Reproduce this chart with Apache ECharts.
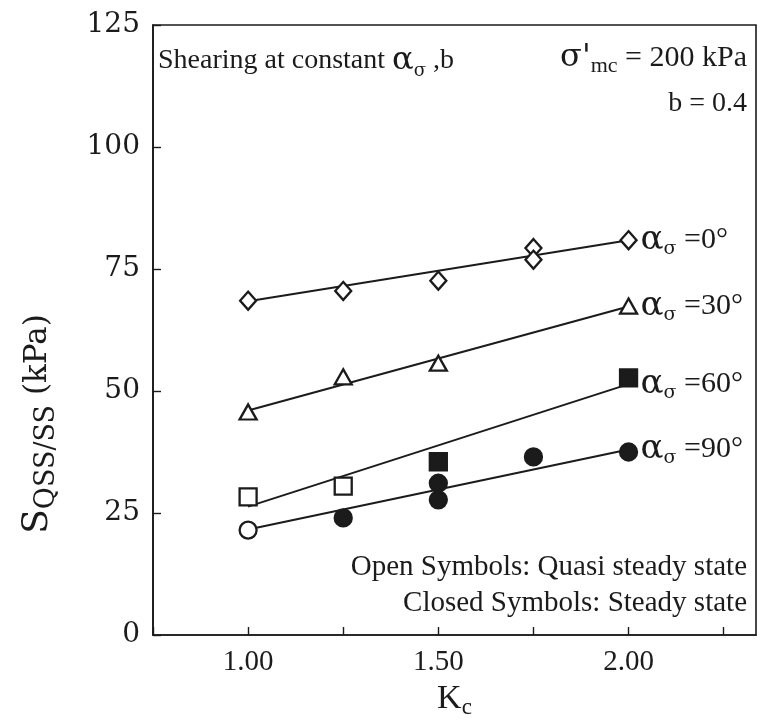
<!DOCTYPE html>
<html>
<head>
<meta charset="utf-8">
<script src="https://cdn.jsdelivr.net/npm/echarts@6/dist/echarts.min.js"></script>
<style>
  html, body { margin: 0; padding: 0; background: #ffffff; }
  #chart { width: 760px; height: 724px; }
</style>
</head>
<body>
<div id="chart"></div>
<script>
// Undrained strength vs. consolidation ratio K_c, grouped by principal stress direction
const xLabeled = [1.00, 1.50, 2.00];

// alpha_sigma = 0 deg (diamonds)
const a0Kc = [1.00, 1.25, 1.50, 1.75, 1.75, 2.00];
const a0Val = [68.5, 70.5, 72.6, 79.3, 76.9, 80.9];
const a0Closed = [false, false, false, false, false, false];

// alpha_sigma = 30 deg (triangles)
const a30Kc = [1.00, 1.25, 1.50, 2.00];
const a30Val = [45.7, 52.9, 55.7, 67.4];
const a30Closed = [false, false, false, false];

// alpha_sigma = 60 deg (squares)
const a60Kc = [1.00, 1.25, 1.50, 2.00];
const a60Val = [28.3, 30.5, 35.5, 52.7];
const a60Closed = [false, false, true, true];

// alpha_sigma = 90 deg (circles)
const a90Kc = [1.00, 1.25, 1.50, 1.50, 1.75, 2.00];
const a90Val = [21.5, 24.0, 31.1, 27.7, 36.5, 37.5];
const a90Closed = [false, true, true, true, true, true];

// best-fit lines, evaluated at K_c = 1.00 and 2.00
const fitKc = [1.00, 2.00];
const fit0 = [68.4, 80.9];
const fit30 = [46.0, 67.3];
const fit60 = [26.3, 51.4];
const fit90 = [21.6, 38.0];
const fitAngles = ['0°', '30°', '60°', '90°'];

const INK = '#1b1b1b';
const SERIF = '"Liberation Serif", "DejaVu Serif", serif';
const WIDE = '"DejaVu Serif", "Liberation Serif", serif';

function markerData(kc, val, closed) {
  return kc.map((k, i) => ({
    value: [k, val[i]],
    itemStyle: closed[i] ? { color: INK, borderColor: INK } : { color: '#ffffff', borderColor: INK }
  }));
}

function markerSeries(kc, val, closed, symbol, size) {
  return {
    type: 'scatter',
    symbol: symbol,
    symbolSize: size,
    z: 5,
    itemStyle: { borderWidth: 2.3, opacity: 1 },
    data: markerData(kc, val, closed)
  };
}

const alphaRich = {
  a: { fontFamily: WIDE, fontSize: 34, color: INK, lineHeight: 36, verticalAlign: 'middle' },
  s: { fontFamily: WIDE, fontSize: 19, color: INK, lineHeight: 36, verticalAlign: 'bottom' },
  t: { fontFamily: SERIF, fontSize: 30, color: INK, lineHeight: 36, verticalAlign: 'middle' }
};

function fitSeries(vals, angle) {
  return {
    type: 'line',
    z: 3,
    symbol: 'none',
    silent: true,
    lineStyle: { color: INK, width: 2 },
    endLabel: {
      show: true,
      distance: 12,
      formatter: '{a|α}{s|σ}{t| =' + angle + '}',
      rich: alphaRich
    },
    data: fitKc.map((k, i) => [k, vals[i]])
  };
}

const chart = echarts.init(document.getElementById('chart'), null, { renderer: 'canvas' });

const option = {
  backgroundColor: '#ffffff',
  animation: false,
  grid: {
    left: 153, top: 25, right: 4, bottom: 89,
    outerBoundsMode: 'none',
    containLabel: false,
    show: true, borderColor: INK, borderWidth: 1.6, backgroundColor: 'transparent'
  },
  xAxis: {
    type: 'value',
    min: 0.75,
    max: 2.335,
    interval: 0.25,
    axisLine: { show: true, onZero: false, lineStyle: { color: INK, width: 1.7 } },
    axisTick: { show: true, inside: true, length: 8, lineStyle: { color: INK, width: 1.4 } },
    splitLine: { show: false },
    axisLabel: {
      show: true,
      margin: 13,
      showMaxLabel: false,
      color: INK,
      fontFamily: SERIF,
      fontSize: 29,
      formatter: v => (xLabeled.some(t => Math.abs(t - v) < 1e-6) ? v.toFixed(2) : '')
    },
    name: '{k|K}{c|c}',
    nameLocation: 'middle',
    nameGap: 40,
    nameTextStyle: {
      rich: {
        k: { fontFamily: SERIF, fontSize: 34, color: INK, lineHeight: 42, verticalAlign: 'middle' },
        c: { fontFamily: SERIF, fontSize: 23, color: INK, lineHeight: 42, verticalAlign: 'bottom' }
      }
    }
  },
  yAxis: {
    type: 'value',
    min: 0,
    max: 125,
    interval: 25,
    axisLine: { show: true, lineStyle: { color: INK, width: 1.7 } },
    axisTick: { show: true, inside: true, length: 8, lineStyle: { color: INK, width: 1.4 } },
    splitLine: { show: false },
    axisLabel: { margin: 13, color: INK, fontFamily: WIDE, fontSize: 28 }
  },
  graphic: [
    {
      type: 'text', x: 38, y: 424, rotation: Math.PI / 2,
      style: {
        text: '{S|S}{q|QSS/SS}{u| (kPa)}',
        align: 'center', verticalAlign: 'middle',
        rich: {
          S: { fontFamily: WIDE, fontSize: 36, fill: INK, lineHeight: 44, verticalAlign: 'middle' },
          q: { fontFamily: WIDE, fontSize: 27, fill: INK, lineHeight: 44, verticalAlign: 'bottom' },
          u: { fontFamily: WIDE, fontSize: 31, fill: INK, lineHeight: 44, verticalAlign: 'middle' }
        }
      }
    },
    {
      type: 'text', x: 158, y: 61,
      style: {
        text: '{t|Shearing at constant }{a|α}{s|σ}{t| ,b}',
        align: 'left', verticalAlign: 'middle',
        rich: {
          t: { fontFamily: SERIF, fontSize: 28, fill: INK, lineHeight: 38, verticalAlign: 'middle' },
          a: { fontFamily: WIDE, fontSize: 32, fill: INK, lineHeight: 38, verticalAlign: 'middle' },
          s: { fontFamily: WIDE, fontSize: 18, fill: INK, lineHeight: 38, verticalAlign: 'bottom' }
        }
      }
    },
    {
      type: 'text', x: 747, y: 58,
      style: {
        text: "{g|σ'}{m|mc}{t| = 200 kPa}",
        align: 'right', verticalAlign: 'middle',
        rich: {
          g: { fontFamily: WIDE, fontSize: 32, fill: INK, lineHeight: 38, verticalAlign: 'middle' },
          m: { fontFamily: SERIF, fontSize: 22, fill: INK, lineHeight: 38, verticalAlign: 'bottom' },
          t: { fontFamily: SERIF, fontSize: 30, fill: INK, lineHeight: 38, verticalAlign: 'middle' }
        }
      }
    },
    {
      type: 'text', x: 747, y: 104,
      style: {
        text: 'b = 0.4', align: 'right', verticalAlign: 'middle',
        font: '28px ' + SERIF, fill: INK
      }
    },
    {
      type: 'text', x: 747, y: 567,
      style: {
        text: 'Open Symbols: Quasi steady state', align: 'right', verticalAlign: 'middle',
        font: '29px ' + SERIF, fill: INK
      }
    },
    {
      type: 'text', x: 747, y: 603,
      style: {
        text: 'Closed Symbols: Steady state', align: 'right', verticalAlign: 'middle',
        font: '29px ' + SERIF, fill: INK
      }
    }
  ],
  series: [
    fitSeries(fit0, fitAngles[0]),
    fitSeries(fit30, fitAngles[1]),
    fitSeries(fit60, fitAngles[2]),
    fitSeries(fit90, fitAngles[3]),
    markerSeries(a0Kc, a0Val, a0Closed, 'diamond', [16, 18]),
    markerSeries(a30Kc, a30Val, a30Closed, 'triangle', [17, 15]),
    markerSeries(a60Kc, a60Val, a60Closed, 'rect', [17, 17]),
    markerSeries(a90Kc, a90Val, a90Closed, 'circle', 17)
  ]
};

chart.setOption(option);
</script>
</body>
</html>
